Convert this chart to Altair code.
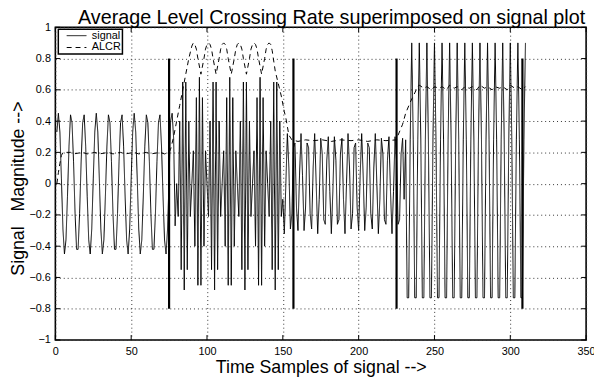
import altair as alt
import pandas as pd

title_text = "Average Level Crossing Rate superimposed on signal plot"
x_title = "Time Samples of signal -->"
y_title = "Signal\u00a0\u00a0\u00a0Magnitude -->"
series_names = ["signal", "ALCR"]

x_ticks = [0, 50, 100, 150, 200, 250, 300, 350]
y_ticks = [-1, -0.8, -0.6, -0.4, -0.2, 0, 0.2, 0.4, 0.6, 0.8, 1]

# signal samples 1..310
signal_y = [
    0.33,
    0.45, 0.33, 0.03, -0.29, -0.45, -0.36, -0.08, 0.24, 0.44, 0.39, 0.14, -0.19, -0.42,
    -0.42, -0.19, 0.14, 0.39, 0.44, 0.24, -0.08, -0.36, -0.45, -0.29, 0.03, 0.33,
    0.45, 0.33, 0.03, -0.29, -0.45, -0.36, -0.08, 0.24, 0.44, 0.39, 0.14, -0.19, -0.42,
    -0.42, -0.19, 0.14, 0.39, 0.44, 0.24, -0.08, -0.36, -0.45, -0.29, 0.03, 0.33,
    0.45, 0.33, 0.03, -0.29, -0.45, -0.36, -0.08, 0.24, 0.44, 0.39, 0.14, -0.19, -0.42,
    -0.42, -0.19, 0.14, 0.39, 0.44, 0.24, -0.08, -0.36, -0.45, -0.29, 0.03,
    # 76..149
    0.40, 0.45, 0.29, -0.27, 0.00,
    -0.21, 0.40, -0.55, 0.65, -0.68, 0.65, -0.55, 0.40, -0.21, 0.00,
    0.21, -0.40, 0.55, -0.65, 0.68, -0.65, 0.55, -0.40, 0.21, 0.00,
    -0.21, 0.40, -0.55, 0.65, -0.68, 0.65, -0.55, 0.40, -0.21, 0.00,
    0.21, -0.40, 0.55, -0.65, 0.68, -0.65, 0.55, -0.40, 0.21, 0.00,
    -0.21, 0.40, -0.55, 0.65, -0.68, 0.65, -0.55, 0.40, -0.21, 0.00,
    0.21, -0.40, 0.55, -0.65, 0.68, -0.65, 0.55, -0.40, 0.21, 0.00,
    -0.21, 0.40, -0.55, 0.65, -0.68, 0.65, -0.55, 0.40, -0.21,
    # 150..230
    -0.10, -0.32,
    0.00, 0.32, 0.10, -0.29, -0.19, 0.23, 0.26, -0.15, -0.30, 0.05,
    0.32, 0.05, -0.30, -0.15, 0.26, 0.23, -0.19, -0.29, 0.10, 0.32,
    0.00, -0.32, -0.10, 0.29, 0.19, -0.23, -0.26, 0.15, 0.30, -0.05,
    -0.32, -0.05, 0.30, 0.15, -0.26, -0.23, 0.19, 0.29, -0.10, -0.32,
    0.00, 0.32, 0.10, -0.29, -0.19, 0.23, 0.26, -0.15, -0.30, 0.05,
    0.32, 0.05, -0.30, -0.15, 0.26, 0.23, -0.19, -0.29, 0.10, 0.32,
    0.00, -0.32, -0.10, 0.29, 0.19, -0.23, -0.26, 0.15, 0.30, -0.05,
    -0.32, -0.05, 0.30, 0.15, -0.26, -0.23, 0.19, 0.29, -0.10,
    # 231..310
    0.28, -0.73, -0.73, 0.28, 0.90, 0.28, -0.73, -0.73, 0.28, 0.90,
    0.28, -0.73, -0.73, 0.28, 0.90, 0.28, -0.73, -0.73, 0.28, 0.90,
    0.28, -0.73, -0.73, 0.28, 0.90, 0.28, -0.73, -0.73, 0.28, 0.90,
    0.28, -0.73, -0.73, 0.28, 0.90, 0.28, -0.73, -0.73, 0.28, 0.90,
    0.28, -0.73, -0.73, 0.28, 0.90, 0.28, -0.73, -0.73, 0.28, 0.90,
    0.28, -0.73, -0.73, 0.28, 0.90, 0.28, -0.73, -0.73, 0.28, 0.90,
    0.28, -0.73, -0.73, 0.28, 0.90, 0.28, -0.73, -0.73, 0.28, 0.90,
    0.28, -0.73, -0.73, 0.28, 0.90, 0.28, -0.73, -0.73, 0.28, 0.90,
]

alcr_x = [
    1, 2, 3, 4, 5, 10, 12, 18, 21, 26, 29, 35, 38, 43, 46, 52, 55, 60, 63, 69, 72, 75,
    76, 78, 80, 82, 84, 86, 88, 90, 91, 92, 93, 94, 96, 98, 99, 100, 101, 102, 103, 104,
    106, 108, 109, 110, 111, 112, 113, 114, 116, 118, 119, 120, 121, 122, 123, 124,
    126, 128, 129, 130, 131, 132, 133, 134, 136, 138, 139, 140, 141, 142, 143, 145,
    147, 149, 151, 152, 154, 156, 160, 165, 170, 176, 182, 188, 195, 200, 206, 212,
    218, 225, 226, 229, 231, 234, 237, 239, 240, 243, 245, 248, 250, 253, 255, 258,
    260, 263, 265, 268, 270, 273, 275, 278, 280, 283, 285, 288, 290, 293, 295, 298,
    300, 303, 305, 308, 310,
]
alcr_y = [
    0.00, 0.07, 0.13, 0.18, 0.20, 0.20, 0.19, 0.20, 0.19, 0.20, 0.19, 0.20, 0.19, 0.20,
    0.19, 0.20, 0.19, 0.20, 0.19, 0.20, 0.19, 0.20,
    0.22, 0.30, 0.40, 0.50, 0.60, 0.70, 0.80, 0.88, 0.90, 0.89, 0.86, 0.80, 0.70, 0.80,
    0.86, 0.89, 0.90, 0.89, 0.86, 0.80,
    0.70, 0.80, 0.86, 0.89, 0.90, 0.89, 0.86, 0.80, 0.70, 0.80, 0.86, 0.89, 0.90, 0.89,
    0.86, 0.80,
    0.70, 0.80, 0.86, 0.89, 0.90, 0.89, 0.86, 0.80, 0.70, 0.80, 0.86, 0.89, 0.90, 0.89,
    0.85, 0.72,
    0.64, 0.56, 0.46, 0.42, 0.31, 0.28, 0.27, 0.28, 0.275, 0.28, 0.27, 0.28, 0.275, 0.28,
    0.27, 0.28,
    0.275, 0.28, 0.31, 0.38, 0.45, 0.52, 0.58, 0.62, 0.63, 0.61, 0.62, 0.60, 0.62, 0.61,
    0.62, 0.60,
    0.63, 0.61, 0.62, 0.60, 0.62, 0.61, 0.62, 0.60, 0.63, 0.61, 0.62, 0.60, 0.62, 0.61,
    0.62, 0.60,
    0.63, 0.61, 0.62, 0.60, 0.62,
]

boundary_x = [75, 157, 225, 308]
boundary_lo = [-0.8, -0.8, -0.8, -0.8]
boundary_hi = [0.8, 0.8, 0.8, 0.8]

W, H = 538, 317
FONT = "Liberation Sans"

sig = pd.DataFrame({"x": list(range(1, len(signal_y) + 1)), "y": signal_y, "series": "signal"})
alc = pd.DataFrame({"x": alcr_x, "y": alcr_y, "series": "ALCR"})
lines_df = pd.concat([sig, alc], ignore_index=True)
bdf = pd.DataFrame({"x": boundary_x, "lo": boundary_lo, "hi": boundary_hi})
xt = pd.DataFrame({"v": x_ticks})
yt = pd.DataFrame({"v": y_ticks})

xs = alt.Scale(domain=[0, 350], nice=False, zero=False)
ys = alt.Scale(domain=[-1, 1], nice=False, zero=False)

xaxis = alt.Axis(values=x_ticks, grid=True, ticks=False, domain=False, labelFlush=False,
                 labelFontSize=11, labelPadding=6, labelFont=FONT, labelColor="black",
                 title=x_title, titleFontSize=18, titleFont=FONT, titleFontWeight="normal",
                 titleColor="black", titleY=28, titleBaseline="middle",
                 gridDash=[1, 3], gridColor="#333", gridWidth=1)
yaxis = alt.Axis(values=y_ticks, grid=True, ticks=False, domain=False, format="~g",
                 labelFlush=False,
                 labelFontSize=11, labelPadding=5, labelFont=FONT, labelColor="black",
                 title=y_title, titleFontSize=18, titleFont=FONT, titleFontWeight="normal",
                 titleColor="black", titleX=-37, titleY=163, titleBaseline="middle",
                 gridDash=[1, 3], gridColor="#333", gridWidth=1)

lines = alt.Chart(lines_df).mark_line(color="black", strokeWidth=1).encode(
    x=alt.X("x:Q", scale=xs, axis=xaxis),
    y=alt.Y("y:Q", scale=ys, axis=yaxis),
    strokeDash=alt.StrokeDash(
        "series:N",
        scale=alt.Scale(domain=series_names, range=[[1, 0], [5, 4]]),
        legend=alt.Legend(title=None, orient="none", legendX=3, legendY=2,
                          fillColor="white", strokeColor="black", padding=1,
                          labelFontSize=11, labelFont=FONT, labelColor="black",
                          symbolSize=100, symbolStrokeWidth=1, symbolStrokeColor="black",
                          symbolFillColor="transparent",
                          symbolType="M-2,0H2", labelOffset=10, rowPadding=0,
                          symbolOffset=12),
    ),
    detail="series:N",
)

rules = alt.Chart(bdf).mark_rule(color="black", strokeWidth=2.2).encode(
    x=alt.X("x:Q", scale=xs, axis=None),
    y=alt.Y("lo:Q", scale=ys, axis=None),
    y2="hi:Q",
)

tick_len = 5
bottom_ticks = alt.Chart(xt).mark_rule(color="black", strokeWidth=1).encode(
    x=alt.X("v:Q", scale=xs, axis=None), y=alt.value(H), y2=alt.value(H - tick_len))
top_ticks = alt.Chart(xt).mark_rule(color="black", strokeWidth=1).encode(
    x=alt.X("v:Q", scale=xs, axis=None), y=alt.value(0), y2=alt.value(tick_len))
left_ticks = alt.Chart(yt).mark_rule(color="black", strokeWidth=1).encode(
    y=alt.Y("v:Q", scale=ys, axis=None), x=alt.value(0), x2=alt.value(tick_len))
right_ticks = alt.Chart(yt).mark_rule(color="black", strokeWidth=1).encode(
    y=alt.Y("v:Q", scale=ys, axis=None), x=alt.value(W - tick_len), x2=alt.value(W))

chart = alt.layer(lines, rules, bottom_ticks, top_ticks, left_ticks, right_ticks).resolve_axis(
    x="independent", y="independent"
).properties(
    width=W, height=H,
    padding={"left": 48, "top": 17, "right": 8, "bottom": 38},
    autosize=alt.AutoSizeParams(type="none"),
    title=alt.Title(title_text, fontSize=20, fontWeight="normal", font=FONT,
                    color="black", offset=4, baseline="alphabetic", dy=27, dx=11),
).configure_view(stroke="black", strokeWidth=1.6).configure_legend(strokeWidth=1.5)

chart.save("out.html", embed_options={"renderer": "svg", "actions": False})
